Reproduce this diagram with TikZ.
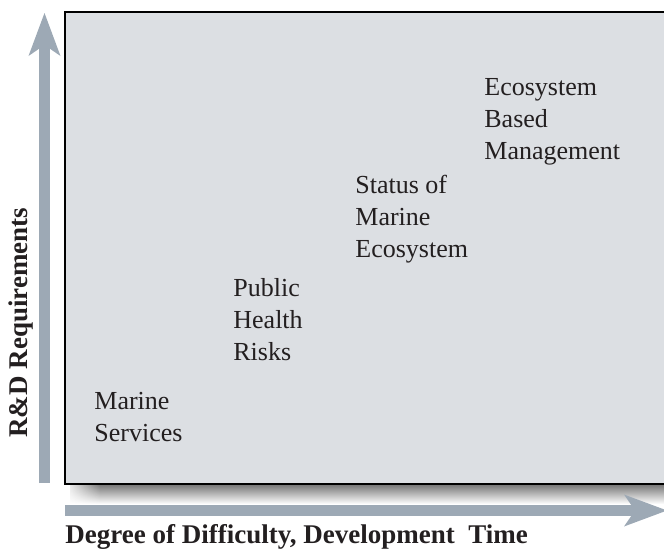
\documentclass[tikz,border=0pt]{standalone}
\usepackage{fontspec}
\setmainfont{Liberation Serif}
\usetikzlibrary{arrows.meta,fadings}

\definecolor{boxgray}{HTML}{DCDFE3}
\definecolor{axisblue}{HTML}{9DA9B5}
\definecolor{inkgray}{HTML}{231F20}
\tikzfading[name=shadowdown, top color=transparent!0, bottom color=transparent!100]
\tikzfading[name=shadowleft, left color=transparent!0, right color=transparent!100]

\begin{document}
\begin{tikzpicture}
                [
                x=0.5pt, y=-0.5pt,
                term/.style={anchor=north west,inner sep=0pt,align=left,text=inkgray,font=\fontsize{13}{16}\selectfont},
                axistitle/.style={anchor=base west,inner sep=0pt,text=inkgray,font=\fontsize{13.5}{16}\selectfont\bfseries},
                axis/.style={draw=axisblue,line width=5.5pt,-{Stealth[length=21.5pt,width=16pt,inset=5.5pt,line width=0pt]}}
                ]
            \useasboundingbox (0,0) rectangle (664,552);
            % shadow and box
            \fill[black!55,path fading=shadowdown] (70,484) rectangle (680,504);
            \fill[white,path fading=shadowleft] (64,482) rectangle (100,506);
            \filldraw[fill=boxgray,draw=black,line width=1pt] (64.5,11.5) rectangle (690,483.5);
            % axes
            \coordinate (yfoot) at (44.5,483);
            \coordinate (yhead) at (44.5,13);
            \coordinate (xfoot) at (65,510.5);
            \coordinate (xhead) at (667,510.5);
            \draw[axis] (yfoot) -- (yhead);
            \draw[axis] (xfoot) -- (xhead);
            \node[axistitle,rotate=90] (ytitle) at (27,438) {R\&D Requirements};
            \node[axistitle] (xtitle) at (65,543) {Degree of Difficulty, Development\ \ Time};
            % stages
            \node[term] (marine) at (94,392) {Marine\\Services};
            \node[term] (health) at (233,278) {Public\\Health\\Risks};
            \node[term] (status) at (355,175) {Status of\\Marine\\Ecosystem};
            \node[term] (ebm) at (484,78) {Ecosystem\\Based\\Management};
\end{tikzpicture}
\end{document}
